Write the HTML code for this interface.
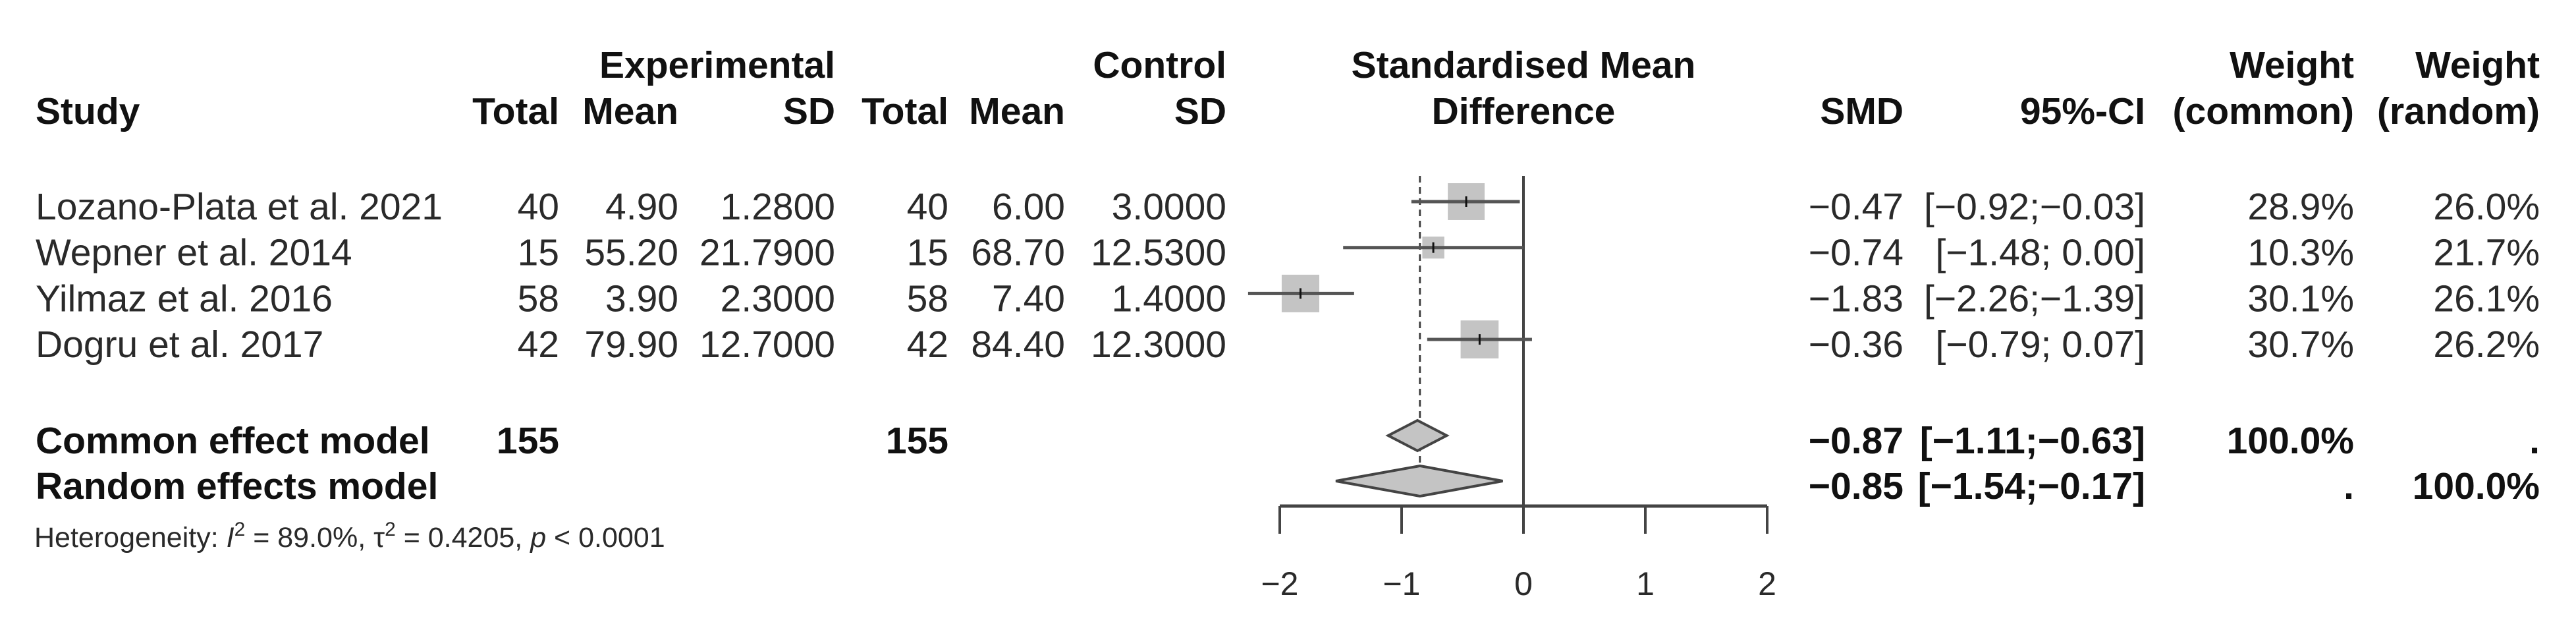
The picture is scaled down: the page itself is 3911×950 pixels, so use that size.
<!DOCTYPE html>
<html><head><meta charset="utf-8"><style>
html,body{margin:0;padding:0;background:#fff;}
svg{display:block;font-family:"Liberation Sans",Arial,sans-serif;}
text{fill:#2a2a2a;font-size:57px;}
.b{font-weight:bold;fill:#111;}
</style></head><body>
<svg id="plot" width="3911" height="950" viewBox="0 0 3911 950">
<g id="hdr">
<text class="b" x="54" y="188">Study</text>
<text class="b" x="1268" y="118" text-anchor="end">Experimental</text>
<text class="b" x="849" y="188" text-anchor="end">Total</text>
<text class="b" x="1030" y="188" text-anchor="end">Mean</text>
<text class="b" x="1268" y="188" text-anchor="end">SD</text>
<text class="b" x="1862" y="118" text-anchor="end">Control</text>
<text class="b" x="1440" y="188" text-anchor="end">Total</text>
<text class="b" x="1617" y="188" text-anchor="end">Mean</text>
<text class="b" x="1862" y="188" text-anchor="end">SD</text>
<text class="b" x="2313" y="118" text-anchor="middle">Standardised Mean</text>
<text class="b" x="2313" y="188" text-anchor="middle">Difference</text>
<text class="b" x="2890" y="188" text-anchor="end">SMD</text>
<text class="b" x="3257" y="188" text-anchor="end">95%-CI</text>
<text class="b" x="3574" y="118" text-anchor="end">Weight</text>
<text class="b" x="3574" y="188" text-anchor="end">(common)</text>
<text class="b" x="3856" y="118" text-anchor="end">Weight</text>
<text class="b" x="3856" y="188" text-anchor="end">(random)</text>
</g>
<g id="rows"></g>
<g id="marks"></g>
<text x="52" y="830" style="font-size:43px">Heterogeneity: <tspan font-style="italic">I</tspan><tspan dy="-17" style="font-size:30px">2</tspan><tspan dy="17"> = 89.0%, τ</tspan><tspan dy="-17" style="font-size:30px">2</tspan><tspan dy="17"> = 0.4205, </tspan><tspan font-style="italic">p</tspan> &lt; 0.0001</text>
</svg>
<script>
const studies = ["Lozano-Plata et al. 2021","Wepner et al. 2014","Yilmaz et al. 2016","Dogru et al. 2017"];
const expTotal = [40,15,58,42];
const expMean = ["4.90","55.20","3.90","79.90"];
const expSD = ["1.2800","21.7900","2.3000","12.7000"];
const ctrlTotal = [40,15,58,42];
const ctrlMean = ["6.00","68.70","7.40","84.40"];
const ctrlSD = ["3.0000","12.5300","1.4000","12.3000"];
const smd = [-0.47,-0.74,-1.83,-0.36];
const lower = [-0.92,-1.48,-2.26,-0.79];
const upper = [-0.03,0.00,-1.39,0.07];
const wCommon = [28.9,10.3,30.1,30.7];
const wRandom = [26.0,21.7,26.1,26.2];
const commonEst = [-0.87,-1.11,-0.63];
const randomEst = [-0.85,-1.54,-0.17];
const ticks = [-2,-1,0,1,2];

const NS="http://www.w3.org/2000/svg";
const X0=2313, UNIT=185;
const xs = v => X0 + v*UNIT;
const rowY = i => 333 + i*69.7;
const rows=document.getElementById('rows'), marks=document.getElementById('marks');
const f2 = v => (v<0?"\u2212":"") + Math.abs(v).toFixed(2);
const ci = (l,u) => "[" + f2(l) + ";" + (u>=0?" ":"") + f2(u) + "]";
function txt(parent,x,y,s,anchor,bold,name){
  const t=document.createElementNS(NS,'text');
  t.setAttribute('x',x);t.setAttribute('y',y);
  if(anchor) t.setAttribute('text-anchor',anchor);
  if(bold) t.setAttribute('class','b');
  t.textContent=s;
  
  
  parent.appendChild(t);return t;
}
function el(parent,tag,attrs,name){
  const e=document.createElementNS(NS,tag);
  for(const k in attrs) e.setAttribute(k,attrs[k]);
  
  
  parent.appendChild(e);return e;
}
studies.forEach((s,i)=>{
  const y=rowY(i);
  txt(rows,54,y,s,null,false,'study-name');
  txt(rows,849,y,String(expTotal[i]),'end',false,'exp-total');
  txt(rows,1030,y,expMean[i],'end',false,'exp-mean');
  txt(rows,1268,y,expSD[i],'end',false,'exp-sd');
  txt(rows,1440,y,String(ctrlTotal[i]),'end',false,'ctrl-total');
  txt(rows,1617,y,ctrlMean[i],'end',false,'ctrl-mean');
  txt(rows,1862,y,ctrlSD[i],'end',false,'ctrl-sd');
  txt(rows,2890,y,f2(smd[i]),'end',false,'smd-value');
  txt(rows,3257,y,ci(lower[i],upper[i]),'end',false,'ci-value');
  txt(rows,3574,y,wCommon[i].toFixed(1)+"%",'end',false,'weight-common');
  txt(rows,3856,y,wRandom[i].toFixed(1)+"%",'end',false,'weight-random');
});
const yC=688, yR=757;
txt(rows,54,yC,"Common effect model",null,true,'common-model-label');
txt(rows,849,yC,String(expTotal.reduce((a,b)=>a+b,0)),'end',true,'common-exp-total');
txt(rows,1440,yC,String(ctrlTotal.reduce((a,b)=>a+b,0)),'end',true,'common-ctrl-total');
txt(rows,2890,yC,f2(commonEst[0]),'end',true,'common-smd');
txt(rows,3257,yC,ci(commonEst[1],commonEst[2]),'end',true,'common-ci');
txt(rows,3574,yC,"100.0%",'end',true,'common-weight-common');
txt(rows,3856,yC,".",'end',true,'common-weight-random');
txt(rows,54,yR,"Random effects model",null,true,'random-model-label');
txt(rows,2890,yR,f2(randomEst[0]),'end',true,'random-smd');
txt(rows,3257,yR,ci(randomEst[1],randomEst[2]),'end',true,'random-ci');
txt(rows,3574,yR,".",'end',true,'random-weight-common');
txt(rows,3856,yR,"100.0%",'end',true,'random-weight-random');

el(marks,'line',{x1:xs(0),x2:xs(0),y1:267,y2:768,stroke:'#444','stroke-width':4},'zero-line');
el(marks,'line',{x1:xs(randomEst[0]),x2:xs(randomEst[0]),y1:267,y2:760,stroke:'#444','stroke-width':3,'stroke-dasharray':'10,7'},'pooled-effect-line');
studies.forEach((s,i)=>{
  const cy=rowY(i)-27;
  const sz=10.4*Math.sqrt(wCommon[i]);
  el(marks,'rect',{x:xs(smd[i])-sz/2,y:cy-sz/2,width:sz,height:sz,fill:'#c4c4c4'},'study-square');
  el(marks,'line',{x1:xs(lower[i]),x2:xs(upper[i]),y1:cy,y2:cy,stroke:'#555','stroke-width':5},'study-ci-line');
  el(marks,'line',{x1:xs(smd[i]),x2:xs(smd[i]),y1:cy-8,y2:cy+8,stroke:'#111','stroke-width':3},'study-point');
});
function diamond(est,cy,name){
  const h=23;
  el(marks,'polygon',{points:`${xs(est[1])},${cy} ${xs(est[0])},${cy-h} ${xs(est[2])},${cy} ${xs(est[0])},${cy+h}`,fill:'#c4c4c4',stroke:'#444','stroke-width':4},name);
}
diamond(commonEst,661,'common-diamond');
diamond(randomEst,730,'random-diamond');
el(marks,'line',{x1:xs(ticks[0]),x2:xs(ticks[ticks.length-1]),y1:768,y2:768,stroke:'#444','stroke-width':5},'x-axis');
ticks.forEach(t=>{
  el(marks,'line',{x1:xs(t),x2:xs(t),y1:768,y2:810,stroke:'#444','stroke-width':4},'x-tick');
  const lb=txt(marks,xs(t),903,(t<0?"\u2212":"")+Math.abs(t),'middle',false,'x-tick-label');
  lb.style.fontSize='50px';
});
</script>
</body></html>
